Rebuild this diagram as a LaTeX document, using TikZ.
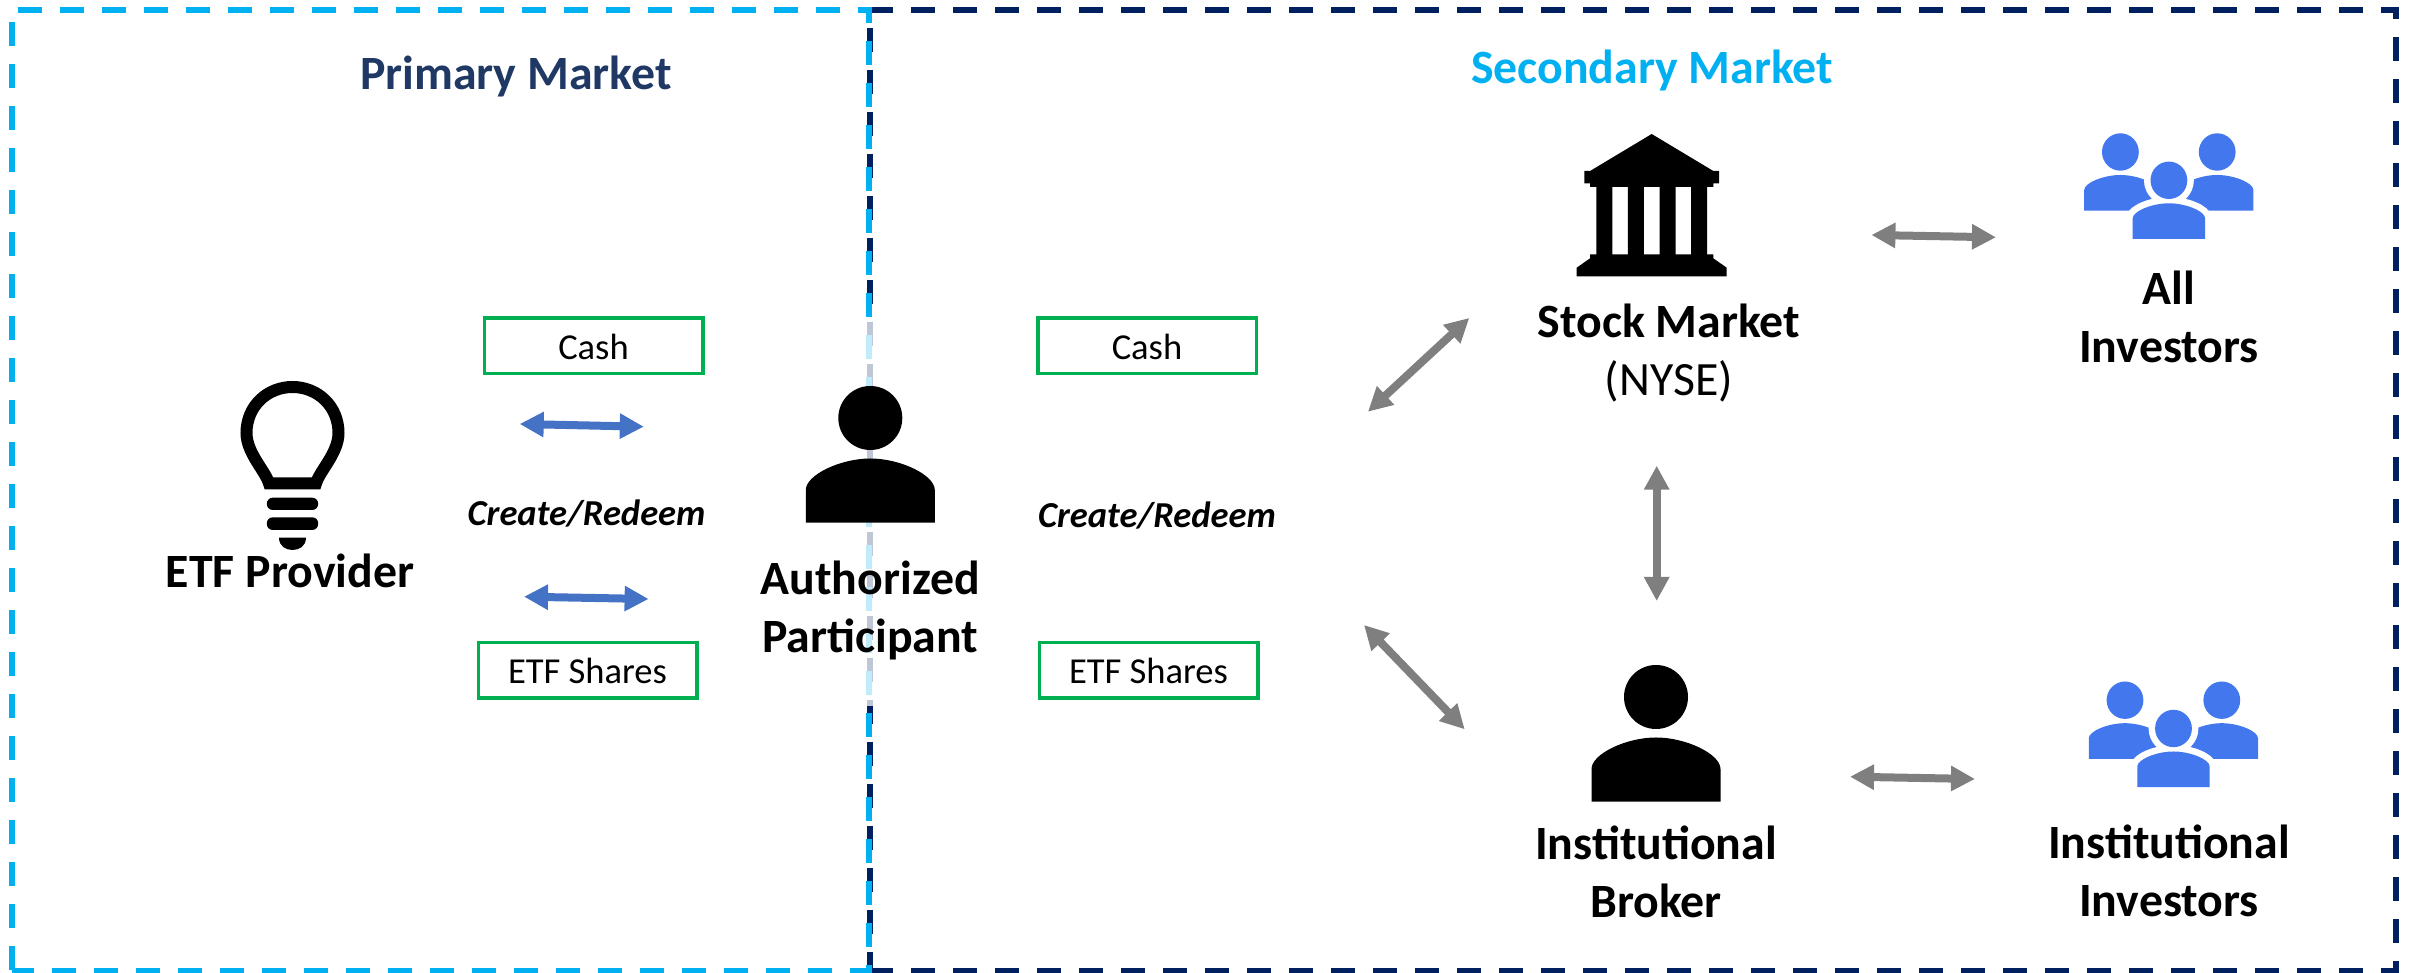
\documentclass[tikz,border=0pt]{standalone}
\usepackage{xcolor}
\usepackage{fontspec}
\setmainfont{Carlito}
\usepackage{tikz}
\usetikzlibrary{arrows.meta,calc,backgrounds}
\definecolor{navy1} {RGB} {0, 32, 96}
\definecolor{cyan1} {RGB} {0, 176, 240}
\definecolor{title1} {RGB} {31, 56, 100}
\definecolor{green1} {RGB} {0, 176, 80}
\definecolor{blue1} {RGB} {68, 114, 196}
\definecolor{gray1} {RGB} {127, 127, 127}
\definecolor{people1} {RGB} {66, 119, 238}
\tikzstyle{etf}=[
  >={Triangle[length=2.4mm,width=2.4mm]}
]
\tikzstyle{etfframe}=[
  line width=0.6mm, dash pattern=on 2.4mm off 1.8mm
]
\tikzstyle{etfbox}=[
  draw=green1, line width=0.35mm, minimum width=2.185cm, minimum height=0.555cm,
  inner sep=0pt, text height=2.66mm, text depth=0pt,
  font=\fontsize{10.4}{12.5}\selectfont
]
\tikzstyle{etfflow}=[
  anchor=base, inner sep=0pt, font=\fontsize{10.4}{12.5}\selectfont\bfseries\itshape
]
\tikzstyle{etflabel}=[
  anchor=base, inner sep=0pt, align=center, font=\fontsize{13.6}{16.5}\selectfont\bfseries
]
\tikzstyle{etfblue}=[
  <->, draw=blue1, line width=0.8mm
]
\tikzstyle{etfgray}=[
  <->, draw=gray1, line width=0.8mm
]
\tikzset{
  bulb/.pic={
    \draw [line width=1.2mm] (-.235,-.505) -- (.235,-.505)
      .. controls (.27,-.38) and (.46,-.2) .. (.46,0)
      .. controls (.46,.27) and (.25,.46) .. (0,.46)
      .. controls (-.25,.46) and (-.46,.27) .. (-.46,0)
      .. controls (-.46,-.2) and (-.27,-.38) .. (-.235,-.505) -- cycle;
    \fill [rounded corners=.06cm] (-.257,-.647) rectangle (.257,-.77);
    \fill [rounded corners=.06cm] (-.257,-.843) rectangle (.257,-.97);
    \fill (-.135,-1.047) -- (.135,-1.047) .. controls (.135,-1.13) and (.07,-1.17) .. (0,-1.17)
      .. controls (-.07,-1.17) and (-.135,-1.13) .. (-.135,-1.047) -- cycle;
  },
  person/.pic={
    \fill (0,0) circle (.32);
    \fill (-.645,-1.047) -- (-.645,-.72)
      .. controls (-.645,-.57) and (-.3,-.405) .. (0,-.405)
      .. controls (.3,-.405) and (.645,-.57) .. (.645,-.72)
      -- (.645,-1.047) -- cycle;
  },
  member/.pic={
    \path [pic actions] (0,0) ellipse (.184 and .187);
    \path [pic actions] (-.362,-.587) -- (-.362,-.38)
      .. controls (-.362,-.31) and (-.17,-.23) .. (0,-.23)
      .. controls (.17,-.23) and (.362,-.31) .. (.362,-.38)
      -- (.362,-.587) -- cycle;
  },
  investors/.pic={
    \pic [fill=people1] at (-.485,.283) {member};
    \pic [fill=people1] at (.483,.283) {member};
    \pic [fill=white, draw=white, line width=1.3mm] at (0,0) {member};
    \pic [fill=people1] at (0,0) {member};
  },
  bank/.pic={
    \fill [even odd rule] (0,0) -- (.616,-.37) -- (.673,-.37) -- (.673,-.493) -- (.616,-.493)
      -- (.616,-.53) -- (.553,-.53) -- (.553,-1.203) -- (.616,-1.203) -- (.616,-1.243)
      -- (.75,-1.337) -- (.75,-1.423) -- (-.75,-1.423) -- (-.75,-1.337) -- (-.616,-1.243)
      -- (-.616,-1.203) -- (-.553,-1.203) -- (-.553,-.53) -- (-.616,-.53) -- (-.616,-.493)
      -- (-.673,-.493) -- (-.673,-.37) -- (-.616,-.37) -- cycle
      (-.394,-.53) rectangle (-.238,-1.203)
      (-.078,-.53) rectangle (.078,-1.203)
      (.238,-.53) rectangle (.394,-1.203);
  }
}

\begin{document}
\begin{tikzpicture}[etf]
\useasboundingbox (0,0) rectangle (24.12,9.73);

\node (primary) [etflabel, text=title1] at (5.16, 8.83) {Primary Market};
\node (secondary) [etflabel, text=cyan1] at (16.52, 8.89) {Secondary Market};

\pic at (2.925, 5.40) {bulb};
\node (provider) [etflabel] at (2.90, 3.85) {ETF Provider};

\node (cash1) [etfbox] at (5.935, 6.27) {Cash};
\node (shares1) [etfbox] at (5.875, 3.025) {ETF Shares};
\node (flow1) [etfflow] at (5.866, 4.47) {Create/Redeem};

\pic at (8.703, 5.55) {person};
\node (participant) [etflabel] at (8.703, 3.20) {Authorized\\Participant};

\node (cash2) [etfbox] at ($(cash1) + (5.535, 0.0)$) {Cash};
\node (shares2) [etfbox] at ($(shares1) + (5.61, 0.0)$) {ETF Shares};
\node (flow2) [etfflow] at ($(flow1.base) + (5.704, -0.02)$) {Create/Redeem};

\pic at (16.517, 8.39) {bank};
\node (stock) [etflabel] at (16.69, 5.77) {Stock Market\\{\mdseries (NYSE)}};

\pic at (16.56, 2.76) {person};
\node (broker) [etflabel] at (16.56, 0.555) {Institutional\\Broker};

\pic at (21.689, 7.927) {investors};
\node (all) [etflabel] at (21.69, 6.10) {All\\Investors};

\pic at (21.735, 2.445) {investors};
\node (institutional) [etflabel] at (21.69, 0.56) {Institutional\\Investors};

\coordinate (a1) at (5.197, 5.49);
\coordinate (a2) at (6.438, 5.463);
\coordinate (b1) at (5.24, 3.763);
\coordinate (b2) at (6.486, 3.74);
\coordinate (c1) at (13.68, 5.613);
\coordinate (c2) at (14.693, 6.55);
\coordinate (d1) at (13.64, 3.48);
\coordinate (d2) at (14.647, 2.437);
\coordinate (e1) at (16.567, 5.073);
\coordinate (e2) at (16.567, 3.72);
\coordinate (f1) at (18.714, 7.38);
\coordinate (f2) at (19.96, 7.357);
\coordinate (g1) at (18.50, 1.963);
\coordinate (g2) at (19.75, 1.94);

\draw [etfblue] (a1) -- (a2);
\draw [etfblue] (b1) -- (b2);
\draw [etfgray] (c1) -- (c2);
\draw [etfgray] (d1) -- (d2);
\draw [etfgray] (e1) -- (e2);
\draw [etfgray] (f1) -- (f2);
\draw [etfgray] (g1) -- (g2);

\begin{scope}[on background layer]
\draw [etfframe, draw=navy1] (8.69, 9.633) -- (23.955, 9.633) -- (23.955, 0.02) -- (8.69, 0.02);
\draw [etfframe, draw=navy1, dash phase=2.4mm] (8.695, 9.633) -- (8.695, 0.02);
\draw [etfframe, draw=cyan1, dash phase=3.6mm] (0.12, 9.633) -- (8.685, 9.633) -- (8.685, 0.02) -- (0.12, 0.02);
\draw [etfframe, draw=cyan1, dash phase=3.0mm] (0.12, 9.633) -- (0.12, 0.02);
\fill [white, fill opacity=0.75] (8.60, 6.51) rectangle (8.78, 2.67);
\end{scope}
\end{tikzpicture}
\end{document}
